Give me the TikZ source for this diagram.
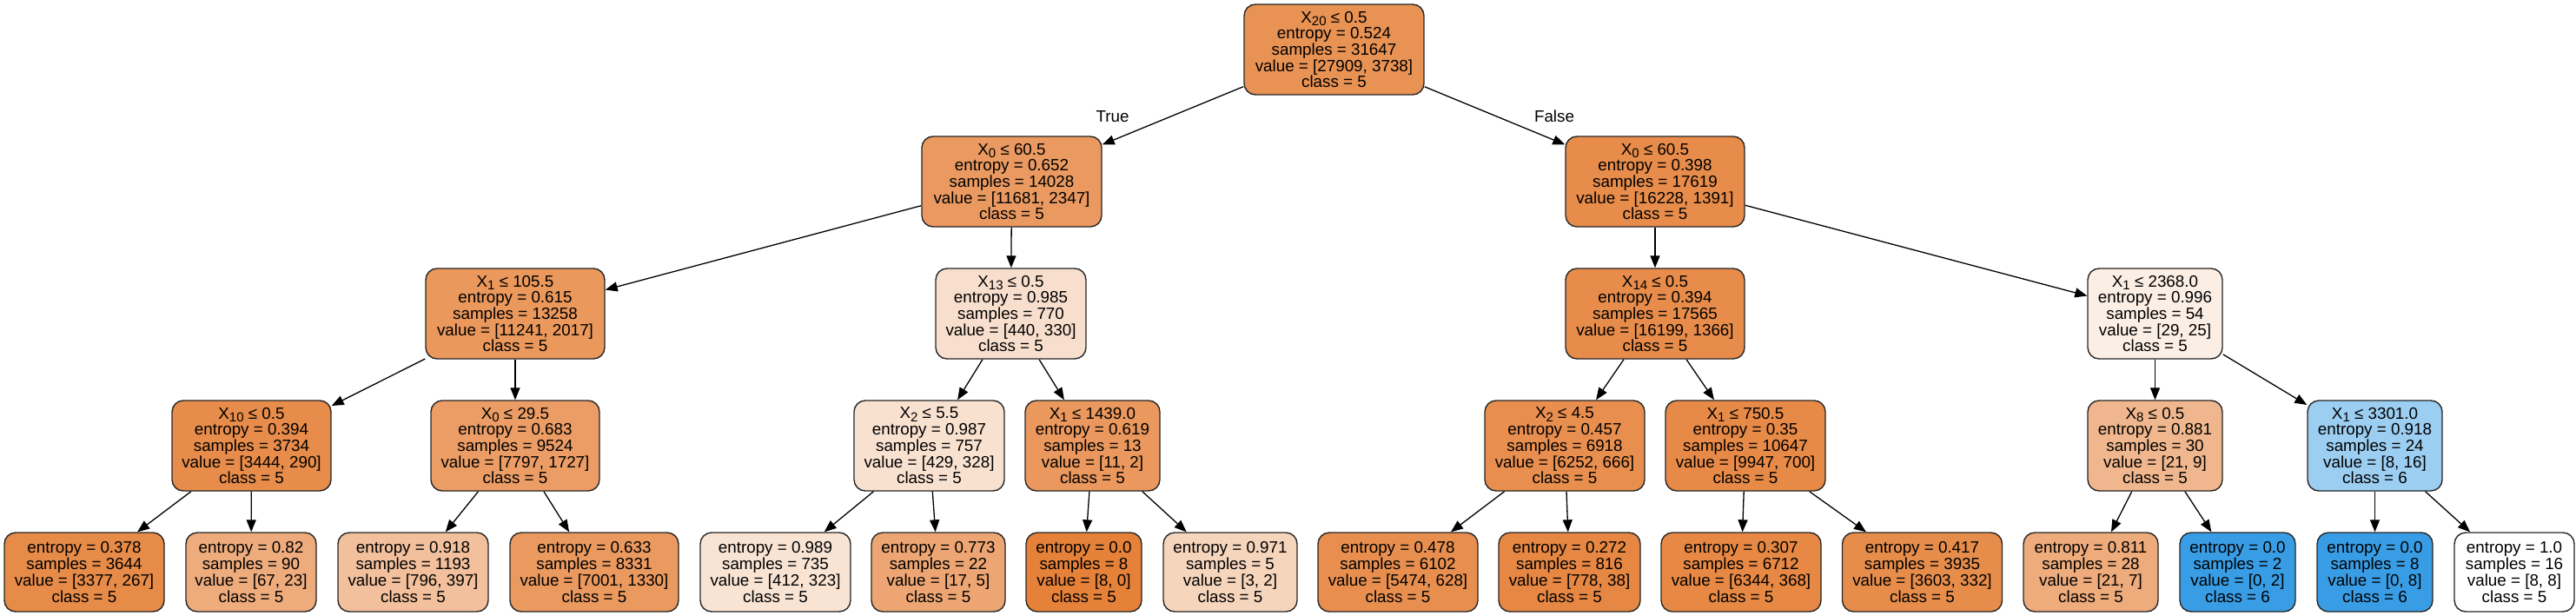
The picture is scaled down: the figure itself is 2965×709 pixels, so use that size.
\documentclass[tikz,border=0pt]{standalone}
\usepackage{fontspec}
\setmainfont{Liberation Sans}
\usetikzlibrary{arrows.meta}
\definecolor{cls5}{RGB}{229,129,57}
\definecolor{cls6}{RGB}{57,157,229}
\newcommand\Xsub[1]{X\raisebox{-3.3pt}{\fontsize{15}{15}\selectfont #1}}
\tikzset{
  box/.style={draw=black!85, line width=1.4pt, rounded corners=13pt, inner sep=0pt,
    align=center, font=\fontsize{18.8}{18.7}\selectfont},
  inner/.style={box, minimum height=104pt},
  leaf/.style={box, minimum height=91pt},
  edge/.style={line width=1.3pt, -{Triangle[length=14pt,width=11pt]}},
  lbl/.style={font=\fontsize{18.8}{18.7}\selectfont, inner sep=0pt}
}
\begin{document}
\begin{tikzpicture}[x=1pt,y=-1pt]
\useasboundingbox (0,0) rectangle (2965,709);
% level 0
\node[inner, minimum width=207pt, fill=cls5!86.6] (root) at (1535.5,57)
 {\Xsub{20} ≤ 0.5\\entropy = 0.524\\samples = 31647\\value = [27909, 3738]\\class = 5};
% level 1
\node[inner, minimum width=207pt, fill=cls5!79.9] (n1) at (1164.5,209)
 {\Xsub{0} ≤ 60.5\\entropy = 0.652\\samples = 14028\\value = [11681, 2347]\\class = 5};
\node[inner, minimum width=206pt, fill=cls5!91.4] (n2) at (1905,209)
 {\Xsub{0} ≤ 60.5\\entropy = 0.398\\samples = 17619\\value = [16228, 1391]\\class = 5};
% level 2
\node[inner, minimum width=206pt, fill=cls5!82.1] (a) at (593,361)
 {\Xsub{1} ≤ 105.5\\entropy = 0.615\\samples = 13258\\value = [11241, 2017]\\class = 5};
\node[inner, minimum width=173pt, fill=cls5!25.0] (b) at (1163.5,361)
 {\Xsub{13} ≤ 0.5\\entropy = 0.985\\samples = 770\\value = [440, 330]\\class = 5};
\node[inner, minimum width=206pt, fill=cls5!91.6] (c) at (1905,361)
 {\Xsub{14} ≤ 0.5\\entropy = 0.394\\samples = 17565\\value = [16199, 1366]\\class = 5};
\node[inner, minimum width=155pt, fill=cls5!13.8] (d) at (2480.5,361)
 {\Xsub{1} ≤ 2368.0\\entropy = 0.996\\samples = 54\\value = [29, 25]\\class = 5};
% level 3
\node[inner, minimum width=183pt, fill=cls5!91.6] (e) at (289.5,513)
 {\Xsub{10} ≤ 0.5\\entropy = 0.394\\samples = 3734\\value = [3444, 290]\\class = 5};
\node[inner, minimum width=194pt, fill=cls5!77.9] (f) at (593,513)
 {\Xsub{0} ≤ 29.5\\entropy = 0.683\\samples = 9524\\value = [7797, 1727]\\class = 5};
\node[inner, minimum width=173pt, fill=cls5!23.5] (g) at (1069.5,513)
 {\Xsub{2} ≤ 5.5\\entropy = 0.987\\samples = 757\\value = [429, 328]\\class = 5};
\node[inner, minimum width=155pt, fill=cls5!81.8] (h) at (1257.5,513)
 {\Xsub{1} ≤ 1439.0\\entropy = 0.619\\samples = 13\\value = [11, 2]\\class = 5};
\node[inner, minimum width=184pt, fill=cls5!89.3] (i) at (1801,513)
 {\Xsub{2} ≤ 4.5\\entropy = 0.457\\samples = 6918\\value = [6252, 666]\\class = 5};
\node[inner, minimum width=184pt, fill=cls5!93.0] (j) at (2009,513)
 {\Xsub{1} ≤ 750.5\\entropy = 0.35\\samples = 10647\\value = [9947, 700]\\class = 5};
\node[inner, minimum width=155pt, fill=cls5!57.1] (k) at (2480.5,513)
 {\Xsub{8} ≤ 0.5\\entropy = 0.881\\samples = 30\\value = [21, 9]\\class = 5};
\node[inner, minimum width=155pt, fill=cls6!50.0] (l) at (2733.5,513)
 {\Xsub{1} ≤ 3301.0\\entropy = 0.918\\samples = 24\\value = [8, 16]\\class = 6};
% leaves
\node[leaf, minimum width=184pt, fill=cls5!92.1] (l1) at (97,658.5)
 {entropy = 0.378\\samples = 3644\\value = [3377, 267]\\class = 5};
\node[leaf, minimum width=150pt, fill=cls5!65.7] (l2) at (289,658.5)
 {entropy = 0.82\\samples = 90\\value = [67, 23]\\class = 5};
\node[leaf, minimum width=173pt, fill=cls5!50.1] (l3) at (475.5,658.5)
 {entropy = 0.918\\samples = 1193\\value = [796, 397]\\class = 5};
\node[leaf, minimum width=194pt, fill=cls5!81.0] (l4) at (684,658.5)
 {entropy = 0.633\\samples = 8331\\value = [7001, 1330]\\class = 5};
\node[leaf, minimum width=173pt, fill=cls5!21.6] (l5) at (892.5,658.5)
 {entropy = 0.989\\samples = 735\\value = [412, 323]\\class = 5};
\node[leaf, minimum width=154pt, fill=cls5!70.6] (l6) at (1080,658.5)
 {entropy = 0.773\\samples = 22\\value = [17, 5]\\class = 5};
\node[leaf, minimum width=133pt, fill=cls5] (l7) at (1247.5,658.5)
 {entropy = 0.0\\samples = 8\\value = [8, 0]\\class = 5};
\node[leaf, minimum width=154pt, fill=cls5!33.3] (l8) at (1416,658.5)
 {entropy = 0.971\\samples = 5\\value = [3, 2]\\class = 5};
\node[leaf, minimum width=184pt, fill=cls5!88.5] (l9) at (1609,658.5)
 {entropy = 0.478\\samples = 6102\\value = [5474, 628]\\class = 5};
\node[leaf, minimum width=163pt, fill=cls5!95.1] (l10) at (1806.5,658.5)
 {entropy = 0.272\\samples = 816\\value = [778, 38]\\class = 5};
\node[leaf, minimum width=184pt, fill=cls5!94.2] (l11) at (2004,658.5)
 {entropy = 0.307\\samples = 6712\\value = [6344, 368]\\class = 5};
\node[leaf, minimum width=184pt, fill=cls5!90.8] (l12) at (2212.5,658.5)
 {entropy = 0.417\\samples = 3935\\value = [3603, 332]\\class = 5};
\node[leaf, minimum width=155pt, fill=cls5!66.7] (l13) at (2406.5,658.5)
 {entropy = 0.811\\samples = 28\\value = [21, 7]\\class = 5};
\node[leaf, minimum width=133pt, fill=cls6] (l14) at (2575.5,658.5)
 {entropy = 0.0\\samples = 2\\value = [0, 2]\\class = 6};
\node[leaf, minimum width=133pt, fill=cls6] (l15) at (2733.5,658.5)
 {entropy = 0.0\\samples = 8\\value = [0, 8]\\class = 6};
\node[leaf, minimum width=138pt, fill=white] (l16) at (2894,658.5)
 {entropy = 1.0\\samples = 16\\value = [8, 8]\\class = 5};
% edges
\draw[edge] (root) -- (n1);
\draw[edge] (root) -- (n2);
\draw[edge] (n1) -- (a);
\draw[edge] (n1) -- (b);
\draw[edge] (n2) -- (c);
\draw[edge] (n2) -- (d);
\draw[edge] (a) -- (e);
\draw[edge] (a) -- (f);
\draw[edge] (b) -- (g);
\draw[edge] (b) -- (h);
\draw[edge] (c) -- (i);
\draw[edge] (c) -- (j);
\draw[edge] (d) -- (k);
\draw[edge] (d) -- (l);
\draw[edge] (e) -- (l1);
\draw[edge] (e) -- (l2);
\draw[edge] (f) -- (l3);
\draw[edge] (f) -- (l4);
\draw[edge] (g) -- (l5);
\draw[edge] (g) -- (l6);
\draw[edge] (h) -- (l7);
\draw[edge] (h) -- (l8);
\draw[edge] (i) -- (l9);
\draw[edge] (i) -- (l10);
\draw[edge] (j) -- (l11);
\draw[edge] (j) -- (l12);
\draw[edge] (k) -- (l13);
\draw[edge] (k) -- (l14);
\draw[edge] (l) -- (l15);
\draw[edge] (l) -- (l16);
% labels
\node[lbl] (tl) at (1280.5,134) {True};
\node[lbl] (fl) at (1789,134) {False};
\end{tikzpicture}
\end{document}
